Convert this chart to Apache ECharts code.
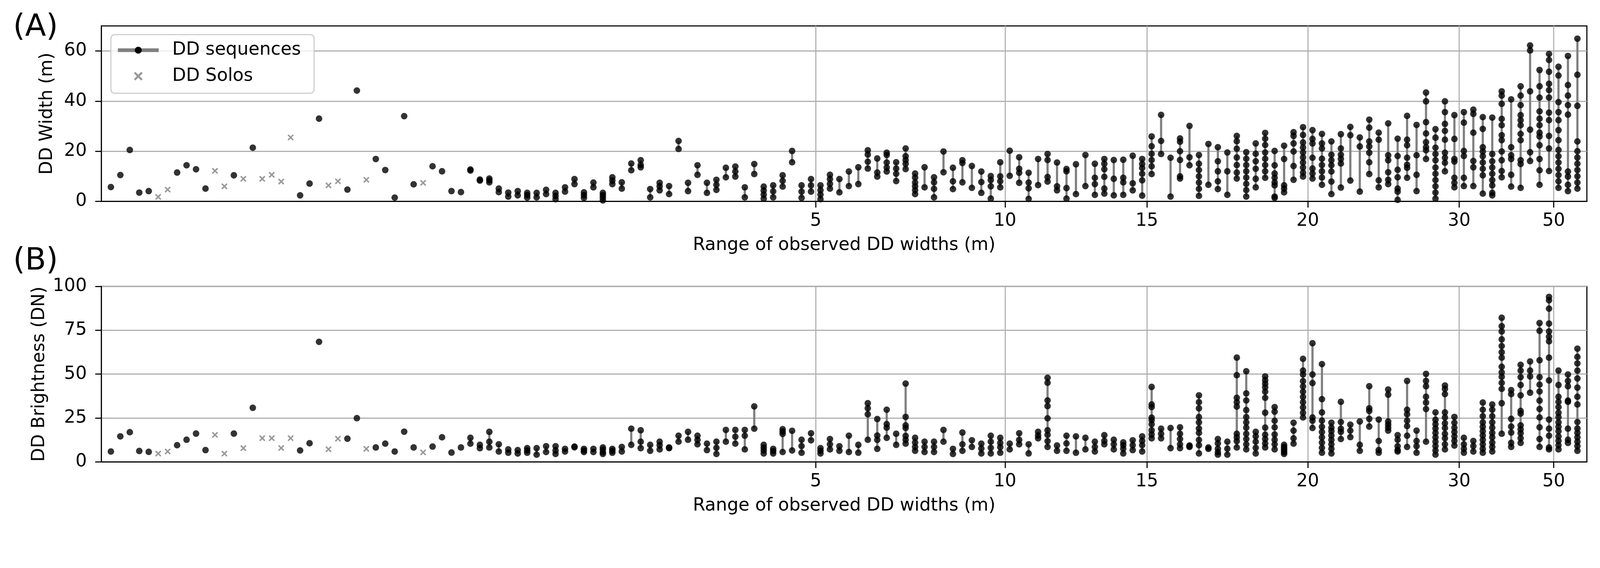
<!DOCTYPE html>
<html>
<head>
<meta charset="utf-8">
<script src="https://cdn.jsdelivr.net/npm/echarts@6/dist/echarts.min.js"></script>
<style>
html, body { margin: 0; padding: 0; background: #fff; overflow: hidden; }
#main { width: 100vw; height: 100vh; }
</style>
</head>
<body>
<div id="main"></div>
<script>
// observed DD widths (m), one list per sequence, sorted by range
var widthObs = [
  [5.7],[10.5],[20.5],[3.5],[4.1],[1.8],[4.7],[11.5],[14.4],[12.8],
  [5.1],[12.2],[6.0],[10.4],[9.0],[21.4],[9.0],[10.6],[7.9],[25.5],
  [2.4],[7.1],[33.0],[6.4],[8.0],[4.7],[44.2],[8.6],[16.9],[12.5],
  [1.5],[34.0],[6.8],[7.4],[14.0],[12.0],[4.1],[3.7],[12.3,12.7],[8.3,8.7],
  [7.6,8.4,9.1],[3.7,5.1],[1.9,3.5],[2.4,4.1],[1.5,2.5,3.4],[1.6,3.4],[2.9,4.6],[0.9,2.2,3.4],[3.9,5.6],[6.9,8.9],
  [1.4,2.5,3.6],[5.6,7.5],[0.4,1.5,2.5,3.4],[6.9,8.3,9.6],[5.1,7.6],[12.4,15.1],[13.6,14.5,16.4],[1.6,4.9],[4.4,6.0,7.4],[2.9,6.1],
  [20.9,24.1],[4.1,7.4],[10.6,14.4],[3.4,7.4],[4.6,6.6,8.6],[9.6,13.4],[9.9,11.9,13.9],[1.6,5.6],[10.9,14.9],[1.1,2.7,4.3,5.9],
  [1.6,4.0,6.4],[5.9,8.2,10.4],[15.6,20.1],[1.4,3.9,6.4],[3.9,6.4,8.9],[0.9,2.7,4.5,6.4],[5.1,7.0,8.9,10.6],[3.6,8.9],[6.1,11.9],[6.9,13.6],
  [13.1,15.8,18.7,20.4],[9.9,11.5,17.1],[11.9,13.5,15.5,18.5,19.4],[8.1,11.0,13.1,15.6],[12.9,15.0,16.5,18.0,21.1],[2.9,4.5,6.0,7.5,9.5,11.1],[5.6,13.6],[1.6,5.0,7.6,9.6],[11.6,19.9],[4.9,8.0,13.4],
  [7.6,15.3,16.4],[5.4,14.1],[3.4,7.7,11.9],[1.1,6.0,8.5,10.1],[5.6,8.0,10.0,15.6],[10.2,20.2],[7.4,11.4,13.0,17.6],[1.0,5.2,7.5,11.4],[6.5,16.9],[7.9,9.7,16.5,18.9],
  [4.4,6.0,15.5],[1.1,5.3,12.0,12.9],[2.9,14.8],[6.1,18.5],[2.6,6.9,9.4,15.0],[3.1,5.1,9.8,12.8,15.0,16.9],[2.4,9.0,16.5],[2.6,7.6,9.4,16.6],[4.4,7.2,18.2],[2.3,8.4,11.0,13.3,14.9,16.9],
  [10.9,14.0,16.5,19.0,22.0,25.9],[18.9,24.1,34.5],[1.9,17.4],[9.1,10.0,16.5,20.0,23.8,25.1],[14.4,17.6,30.1],[2.2,5.0,7.5,10.0,12.5,15.0,18.5],[6.6,22.9],[4.9,8.0,12.0,16.0,21.6],[2.6,12.0,19.5],[9.1,11.5,14.5,17.5,21.0,24.0,26.1],
  [1.9,4.5,7.0,9.5,12.0,14.5,17.0,19.6],[5.6,9.0,13.0,16.0,19.0,23.1],[9.4,12.0,14.5,17.0,19.5,22.5,25.0,27.3],[1.4,1.9,6.4,7.6,9.4,11.1,14.4,20.1],[3.6,5.1,6.4,16.9,22.2],[8.6,14.1,19.9,23.1,26.1,27.6],[9.9,11.5,13.5,15.5,17.5,19.5,21.5,23.5,26.5,29.6],[9.1,11.1,13.1,17.4,23.1,24.9,28.4],[6.6,9.5,12.0,14.5,17.0,21.1,23.1,26.9],[2.9,7.9,11.9,14.4,16.4,18.6,23.9],
  [5.5,15.1,16.9,18.6,21.1,26.8],[8.3,26.4,29.7],[3.9,21.9,25.5],[10.9,15.6,19.4,21.9,23.9,29.4,32.6],[5.6,8.4,24.6,27.4],[6.9,8.6,11.6,16.4,18.4,31.1],[0.6,3.9,5.1,9.6,12.6,18.1,25.0],[9.4,13.4,14.6,17.4,22.4,24.6,34.1],[4.1,10.6,18.4,30.5],[16.9,20.4,21.6,23.6,27.1,31.6,39.9,43.4],
  [1.1,3.5,6.0,8.5,11.0,13.5,16.4,18.9,21.4,25.4,28.8],[12.0,15.4,17.4,19.4,24.6,28.1,30.9,35.6,39.9],[5.6,7.4,9.4,15.9,16.9,24.9,34.4],[6.1,9.4,18.1,20.1,31.4,35.6],[6.1,13.6,16.1,27.4,34.9,36.6],[3.1,10.4,13.0,15.5,18.0,19.9,21.6,28.9,33.6],[2.4,3.4,6.4,8.5,11.0,13.5,16.0,18.9,33.4],[9.6,12.1,16.4,19.9,24.4,26.4,30.4,32.9,38.9,42.2,43.9],[5.9,10.6,16.9,18.4,21.6,40.7],[5.4,14.9,16.4,24.4,26.9,30.4,32.4,34.4,38.4,42.2,45.9],
  [16.1,19.6,28.6,43.9,60.2,62.2],[6.6,12.4,16.9,22.4,25.9,27.4,30.4,33.0,35.9,41.4,45.9,52.4],[12.1,21.1,26.1,32.4,35.4,41.4,44.4,46.9,51.7,56.4,58.8],[5.4,8.0,10.5,13.0,15.5,18.0,20.5,24.4,28.4,32.4,35.6,39.6,50.2,53.7],[4.1,6.6,9.9,11.9,34.6,38.4,42.2,46.4,58.0],[5.1,7.5,10.0,12.5,15.0,17.5,20.0,23.9,38.1,50.5,64.9]
];

// observed DD brightness (DN), same order
var brightObs = [
  [5.9],[14.5],[16.9],[6.2],[5.7],[4.7],[5.9],[9.5],[12.6],[16.1],
  [6.7],[15.4],[4.7],[16.1],[7.8],[30.8],[13.5],[13.5],[7.9],[13.5],
  [6.5],[10.6],[68.4],[7.2],[13.2],[13.2],[24.9],[7.4],[8.2],[10.4],
  [5.9],[17.2],[8.2],[5.4],[8.7],[14.0],[5.3],[8.2],[10.4,13.7],[7.8,9.7],
  [8.2,11.5,17.1],[5.9,10.0],[5.2,7.1],[4.8,6.7],[5.2,6.5,7.8],[4.1,7.8],[5.6,8.9],[4.5,6.5,8.9],[5.9,7.4],[8.3,8.7],
  [5.6,6.5,7.4],[5.6,7.4],[4.5,5.5,7.0,8.2],[5.2,6.3,7.4],[5.9,8.5],[9.7,18.9],[7.8,11.5,18.0],[6.3,9.7],[7.1,9.5,11.5],[7.8,8.2],
  [11.5,14.9],[12.6,17.1],[10.0,12.5,14.9],[6.7,10.4],[4.5,8.0,11.5],[11.5,18.2],[10.4,14.3,18.2],[7.1,14.9,18.2],[18.9,31.6],[4.8,6.5,8.1,9.7],
  [4.8,6.1,7.4],[5.6,15.9,17.3,18.6],[6.5,17.7],[5.2,9.0,12.6],[12.3,16.3],[4.8,6.3,7.8],[7.1,10.0,13.0],[6.3,8.9],[5.6,14.9],[5.2,9.7],
  [12.6,27.1,30.5,33.4],[7.4,12.5,15.0,24.4],[13.7,19.5,21.5,29.7],[9.7,16.0],[10.4,12.6,14.8,19.3,20.8,25.6,44.6],[6.3,8.5,11.0,13.7],[5.6,8.5,11.5],[5.6,8.5,11.5],[11.5,18.2],[4.5,7.4],
  [6.3,10.0,16.7],[8.5,12.3],[4.8,7.6,10.4],[4.8,8.0,11.5,14.9],[5.2,8.4,10.8,13.7],[7.1,10.4],[10.0,12.5,16.3],[4.8,10.0],[13.4,15.0,17.1],[8.5,11.8,15.4,18.0,24.8,31.8,35.0,45.1,47.9],
  [6.3,9.3],[6.3,10.5,14.9],[5.2,14.5],[7.1,13.7],[5.9,8.5,11.5],[10.0,12.0,15.2],[7.1,10.0,12.6],[4.8,7.5,9.5,11.1],[6.7,9.5,12.3],[5.9,9.5,12.0,14.5],
  [13.4,15.6,18.0,21.4,23.8,25.2,31.2,32.7,42.7],[13.4,16.0,18.9],[7.8,19.3],[7.8,10.0,13.0,16.0,19.7],[8.5,8.9,9.3],[4.8,9.5,12.5,16.5,19.0,22.5,25.5,30.5,34.0,37.9],[7.4,8.2],[4.1,5.5,7.5,10.5,13.0],[4.1,7.5,11.5],[8.2,11.8,14.0,16.0,31.5,34.0,36.5,49.4,59.4],
  [7.1,10.0,13.0,16.0,19.5,22.5,25.5,29.5,35.0,39.0,51.6],[4.8,8.0,11.5,14.5,17.1],[8.2,10.5,13.0,15.5,19.5,28.0,36.5,40.0,42.5,44.5,46.5,48.7],[7.1,10.0,12.6,15.6,19.7,23.4,28.6,31.2],[4.5,5.5,6.5,7.5,8.5,9.7],[10.4,13.4,17.8,22.3],[25.3,28.0,31.0,34.0,37.0,40.0,43.0,46.0,49.8,52.0,58.7],[19.3,23.4,25.3,44.9,49.8,67.6],[5.2,8.0,11.0,14.0,17.0,20.0,23.5,28.2,35.7,55.7],[4.8,7.5,10.0,12.5,15.0,17.5,19.5,22.3],
  [13.0,17.1,18.9,22.7,34.2],[14.1,17.8,21.2],[6.3,9.7,23.0],[20.1,24.5,29.0,30.5,43.1],[5.2,6.7,11.9,24.1],[17.8,19.5,21.2,23.0,38.3,41.2],[5.9,6.7,8.9,12.6,15.2],[8.5,14.9,20.4,23.5,27.1,29.7,46.1],[5.2,8.9,11.9,17.8],[11.5,30.1,33.8,37.1,43.1,46.1,50.1],
  [4.1,6.5,9.0,11.5,14.0,16.5,19.0,21.5,24.0,28.2],[7.1,10.0,13.4,16.0,19.3,22.0,25.3,28.2,38.6,41.6,43.5],[9.3,12.0,14.5,17.0,19.5,22.3,25.6],[5.2,7.5,10.0,13.7],[5.9,9.0,11.9],[5.2,7.5,10.0,12.5,15.0,17.5,20.0,22.5,26.0,29.7,33.8],[5.9,8.5,11.0,14.0,16.5,19.5,22.5,26.0,29.7,32.7],[16.0,33.4,41.6,45.0,48.5,51.0,54.2,59.4,62.5,66.0,69.8,74.3,77.3,82.1],[8.5,10.8,16.7,20.1,24.5,38.6,40.9],[10.8,13.5,16.3,18.5,20.8,27.5,29.0,37.9,43.8,48.3,52.0,55.3],
  [39.4,48.7,52.0,57.2],[8.5,13.0,19.7,25.3,30.1,34.9,40.1,44.0,48.3,57.9,74.7,79.1],[7.1,8.2,14.9,18.9,24.1,46.4,59.4,68.7,71.3,74.3,78.8,87.3,92.1,94.0],[7.1,9.5,12.0,14.5,17.5,20.0,22.5,25.5,28.0,31.2,34.2,37.1,43.8,52.0],[10.8,12.6,18.9,34.2,34.9,43.1,46.1,49.8],[6.3,9.0,11.5,14.0,16.5,19.0,22.7,32.7,37.1,42.3,47.5,52.0,56.1,59.8,64.5]
];

// sequences (1-based position) that are solos
var soloIdx = [6, 7, 12, 13, 15, 17, 18, 19, 20, 24, 25, 28, 34];

// x tick positions (between sequences) and their range labels
var tickAt = [75.5, 95.5, 110.5, 127.5, 143.5, 153.5];
var tickText = ['5', '10', '15', '20', '30', '50'];

var widthTicks = [0, 20, 40, 60];
var brightTicks = [0, 25, 50, 75, 100];

var FONT = 'DejaVu Sans';
var X_PATH = 'path://M0,2L2,0L6,4L10,0L12,2L8,6L12,10L10,12L6,8L2,12L0,10L4,6Z';

var dom = document.getElementById('main');
// layout was measured on a 4386 px wide picture; scale it to the real viewport
var S = Math.min(dom.clientWidth / 4386, dom.clientHeight / 1454);
function px(v) { return v * S; }

// half-step categories so ticks can sit between two sequences
var xCats = [];
var nSteps = (widthObs.length + 1) * 2 + 1;
for (var i = 0; i < nSteps; i++) {
  var k = tickAt.indexOf(i / 2);
  xCats.push(k >= 0 ? tickText[k] : '');
}

function buildPanel(obs) {
  var segs = [], dots = [], solos = [];
  obs.forEach(function (vals, i) {
    var n = i + 1, cx = n * 2;
    if (soloIdx.indexOf(n) >= 0) {
      vals.forEach(function (v) { solos.push([cx, v]); });
      return;
    }
    vals.forEach(function (v) { dots.push([cx, v]); });
    if (vals.length > 1) {
      segs.push([cx, Math.min.apply(null, vals), Math.max.apply(null, vals)]);
    }
  });
  return { segs: segs, dots: dots, solos: solos };
}

var pA = buildPanel(widthObs);
var pB = buildPanel(brightObs);

function showTick(idx, val) { return val !== ''; }

function renderSeg(params, api) {
  var x = api.value(0);
  var p1 = api.coord([x, api.value(1)]);
  var p2 = api.coord([x, api.value(2)]);
  return {
    type: 'line',
    shape: { x1: p1[0], y1: p1[1], x2: p2[0], y2: p2[1] },
    style: { stroke: '#808080', lineWidth: px(6) }
  };
}

function xAxisFor(gi) {
  return {
    type: 'category', gridIndex: gi, data: xCats, boundaryGap: false,
    name: 'Range of observed DD widths (m)', nameLocation: 'middle', nameGap: px(96),
    nameTextStyle: { fontSize: px(49), color: '#000', fontFamily: FONT },
    axisLine: { lineStyle: { color: '#000', width: px(3) } },
    axisTick: { interval: showTick, length: px(17), lineStyle: { color: '#000', width: px(3) } },
    axisLabel: { interval: showTick, margin: px(30), fontSize: px(49), color: '#000', fontFamily: FONT },
    splitLine: { show: true, interval: showTick, lineStyle: { color: '#b0b0b0', width: px(3) } }
  };
}

function yAxisFor(gi, name, max, ticks) {
  return {
    type: 'value', gridIndex: gi, min: 0, max: max, interval: ticks[1] - ticks[0],
    name: name, nameLocation: 'middle', nameGap: px(124),
    nameTextStyle: { fontSize: px(49), color: '#000', fontFamily: FONT },
    axisLine: { show: true, lineStyle: { color: '#000', width: px(3) } },
    axisTick: { show: true, customValues: ticks, length: px(17), lineStyle: { color: '#000', width: px(3) } },
    axisLabel: { customValues: ticks, margin: px(40), fontSize: px(49), color: '#000', fontFamily: FONT },
    splitLine: { lineStyle: { color: '#b0b0b0', width: px(3) } }
  };
}

function panelSeries(p, gi, tag) {
  return [
    {
      name: 'seg' + tag, type: 'custom', xAxisIndex: gi, yAxisIndex: gi,
      renderItem: renderSeg, encode: { x: 0, y: [1, 2] }, data: p.segs, z: 2
    },
    {
      name: 'dot' + tag, type: 'scatter', xAxisIndex: gi, yAxisIndex: gi,
      symbol: 'circle', symbolSize: px(18), itemStyle: { color: '#000' }, data: p.dots, z: 3
    },
    {
      name: 'DD Solos', type: 'scatter', xAxisIndex: gi, yAxisIndex: gi,
      symbol: X_PATH, symbolSize: px(17), symbolKeepAspect: true,
      itemStyle: { color: '#808080' }, data: p.solos, z: 3
    }
  ];
}

var chart = echarts.init(dom, null, { renderer: 'canvas' });

chart.setOption({
  animation: false,
  backgroundColor: '#fff',
  textStyle: { fontFamily: FONT },
  grid: [
    { left: px(278), top: px(71), width: px(4072), height: px(481), show: true, borderColor: '#000', borderWidth: px(3) },
    { left: px(278), top: px(785), width: px(4072), height: px(481), show: true, borderColor: '#000', borderWidth: px(3) }
  ],
  legend: {
    data: ['DD sequences', 'DD Solos'],
    orient: 'vertical', left: px(304), top: px(95),
    padding: [px(18), px(36), px(22), px(14)],
    itemWidth: px(112), itemHeight: px(24), itemGap: px(22),
    selectedMode: false,
    backgroundColor: 'rgba(255,255,255,0.8)',
    borderColor: '#cccccc', borderWidth: px(3), borderRadius: px(10),
    lineStyle: { width: px(10) },
    textStyle: { fontSize: px(49), color: '#000', fontFamily: FONT, padding: [0, 0, 0, px(32)] }
  },
  xAxis: [xAxisFor(0), xAxisFor(1)],
  yAxis: [
    yAxisFor(0, 'DD Width (m)', 70, widthTicks),
    yAxisFor(1, 'DD Brightness (DN)', 100, brightTicks)
  ],
  graphic: [
    { type: 'text', x: px(36), y: px(77), style: { text: '(A)', font: px(84) + 'px "DejaVu Sans"', fill: '#000', verticalAlign: 'middle' } },
    { type: 'text', x: px(36), y: px(717), style: { text: '(B)', font: px(84) + 'px "DejaVu Sans"', fill: '#000', verticalAlign: 'middle' } }
  ],
  series: [
    {
      name: 'DD sequences', type: 'line', xAxisIndex: 0, yAxisIndex: 0, data: [],
      symbol: 'circle', itemStyle: { color: '#000' }, lineStyle: { color: '#808080', width: px(10) }
    }
  ].concat(panelSeries(pA, 0, 'A'), panelSeries(pB, 1, 'B'))
});
</script>
</body>
</html>
